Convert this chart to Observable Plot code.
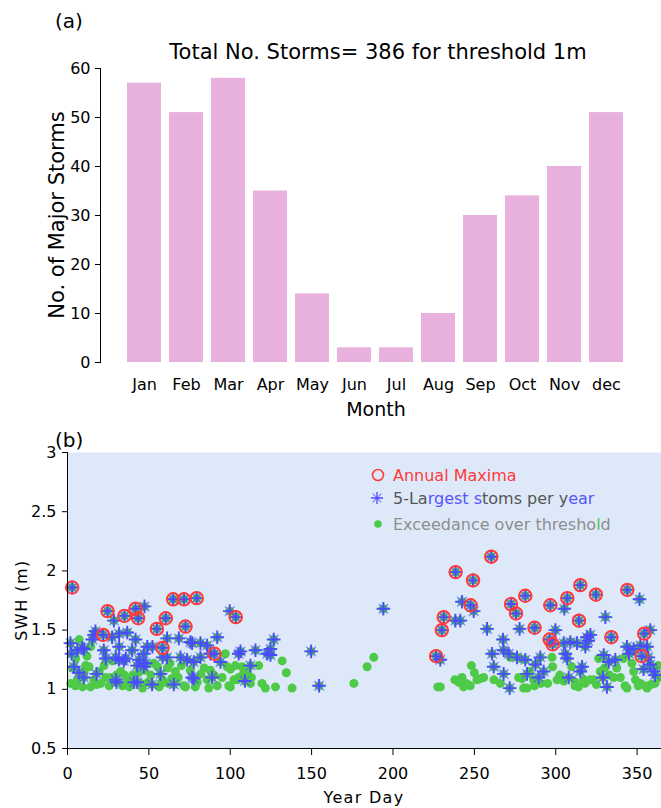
<!DOCTYPE html>
<html><head><meta charset="utf-8">
<script src="https://cdn.jsdelivr.net/npm/d3@7"></script>
<script src="https://cdn.jsdelivr.net/npm/@observablehq/plot@0.6"></script>
<style>
html,body{margin:0;padding:0;background:#fff;}
#chart{width:661px;}
#chart svg{display:block;}
</style></head><body><div id="chart"></div>
<script>
// ---------- Panel (a) data ----------
const months = ["Jan","Feb","Mar","Apr","May","Jun","Jul","Aug","Sep","Oct","Nov","dec"];
const stormCounts = [57, 51, 58, 35, 14, 3, 3, 10, 30, 34, 40, 51];
const countTicks = [0, 10, 20, 30, 40, 50, 60];

// ---------- Panel (b) data ----------
const dayTicks = [0, 50, 100, 150, 200, 250, 300, 350];
const swhTicks = [0.5, 1, 1.5, 2, 2.5, 3];

// Annual maxima (day, SWH m)
const annualMaxDay = [2.9, 21.9, 24.6, 35.0, 41.8, 43.4, 54.9, 58.4, 60.4, 64.9, 71.6, 72.5, 79.4, 90.3, 103.4,
  226.5, 230.0, 231.2, 238.5, 247.7, 249.2, 260.4, 272.5, 275.6, 281.3, 287.0, 296.3, 296.7, 298.1, 307.1,
  314.3, 315.1, 324.7, 334.2, 344.0, 352.8, 354.4];
const annualMaxSwh = [1.86, 1.46, 1.66, 1.62, 1.68, 1.60, 1.51, 1.35, 1.60, 1.76, 1.76, 1.53, 1.77, 1.30, 1.61,
  1.28, 1.50, 1.61, 1.99, 1.71, 1.92, 2.12, 1.72, 1.64, 1.79, 1.52, 1.42, 1.71, 1.38, 1.77,
  1.58, 1.88, 1.80, 1.44, 1.84, 1.28, 1.47];

// Other storms among the 5 largest per year (day, SWH m)
const largestDay = [47.3, 28.5, 99.7, 17.2, 15.2, 36.7, 41.8, 27.4, 31.7, 22.3, 9.0, 2.5, 3.9, 7.0, 10.0,
  17.8, 30.1, 42.8, 52.0, 65.3, 77.6, 88.9, 109.0, 57.1, 46.9, 49.0, 39.7, 31.5, 34.6, 42.8,
  46.9, 68.4, 61.2, 76.6, 81.7, 85.8, 92.0, 69.4, 73.5, 77.6, 81.7, 94.0, 105.2, 112.4, 115.5,
  61.2, 87.8, 124.7, 126.7, 124.7, 76.6, 75.5, 1.8, 6.0, 10.2, 23.5, 29.7, 31.7, 44.0, 48.1,
  29.7, 52.2, 58.4, 35.8, 41.0, 16.4, 106.3, 122.7, 149.7, 154.6, 194.1,
  242.4, 249.6, 238.3, 241.4, 257.8, 277.8, 299.8, 305.3, 330.5, 351.5, 358.1, 229.1, 267.6, 268.0,
  260.9, 271.1, 261.9, 268.0, 271.7, 281.3, 290.5, 287.5, 282.4, 289.5, 292.6, 304.9, 309.0, 313.1,
  319.2, 321.3, 318.2, 305.9, 307.0, 316.2, 315.1, 308.0, 329.5, 332.6, 336.6, 329.0, 331.5, 343.8,
  347.9, 352.0, 356.1, 358.1, 360.2, 361.0, 354.0, 276.2, 320.0, 345.0, 356.9];
const largestSwh = [1.70, 1.58, 1.66, 1.49, 1.42, 1.48, 1.42, 1.44, 1.36, 1.33, 1.35, 1.30, 1.19, 1.14, 1.10,
  1.13, 1.06, 1.06, 1.04, 1.04, 1.09, 1.10, 1.07, 1.13, 1.30, 1.36, 1.33, 1.25, 1.24, 1.20,
  1.19, 1.43, 1.43, 1.39, 1.39, 1.37, 1.44, 1.27, 1.25, 1.23, 1.27, 1.23, 1.30, 1.20, 1.33,
  1.27, 1.30, 1.34, 1.42, 1.29, 1.10, 1.40, 1.39, 1.33, 1.34, 1.26, 1.27, 1.47, 1.25, 1.22,
  1.08, 1.36, 1.27, 1.26, 1.06, 1.46, 1.32, 1.30, 1.32, 1.03, 1.68,
  1.74, 1.66, 1.58, 1.58, 1.51, 1.51, 1.50, 1.68, 1.61, 1.76, 1.50, 1.25, 1.42, 1.33,
  1.30, 1.30, 1.19, 1.13, 1.01, 1.25, 1.27, 1.21, 1.13, 1.10, 1.15, 1.39, 1.40, 1.39,
  1.44, 1.46, 1.36, 1.30, 1.26, 1.19, 1.15, 1.10, 1.29, 1.23, 1.25, 1.10, 1.02, 1.36,
  1.34, 1.37, 1.36, 1.21, 1.15, 1.12, 1.17, 1.27, 1.41, 1.30, 1.27];

// Other exceedances over the 1 m threshold (day, SWH m)
const exceedDay = [7.2, 14.3, 2.0, 4.9, 9.2, 14.1, 16.2, 13.3, 22.5, 23.5, 25.6, 26.4, 32.7, 33.8, 36.9,
  46.1, 47.1, 51.2, 55.3, 58.4, 61.4, 20.5, 3.1, 56.3, 11.1, 10.1, 66.3, 71.5, 79.7, 85.8,
  92.0, 87.8, 100.1, 104.2, 107.3, 100.1, 117.5, 121.6, 127.8, 112.4, 75.5, 72.5, 86.8, 98.1, 99.1,
  102.2, 138.0, 134.5, 131.9, 105.2, 103.2, 176.0, 184.1, 188.2, 40.0, 45.0, 62.0, 68.0, 82.0,
  95.0, 108.0, 113.0, 30.0, 18.0, 6.0, 63.0, 53.0, 97.0, 12.0, 19.5, 27.5, 38.0, 43.5, 49.5,
  64.0, 70.0, 78.5, 84.0, 90.0, 110.5, 119.5, 5.0, 35.0, 57.5, 67.0,
  227.5, 248.2, 242.4, 240.4, 243.4, 247.5, 251.6, 255.7, 266.0, 272.1, 278.3, 277.2, 280.3, 282.4,
  286.4, 297.7, 298.1, 300.8, 312.0, 317.2, 323.3, 326.4, 327.4, 335.6, 339.7, 343.8, 346.8, 347.9,
  352.0, 356.1, 341.6, 253.7, 279.3, 229.1, 311.8, 318.0, 321.1, 342.6, 350.7, 361.0, 309.8, 290.8,
  355.0, 238.0, 245.0, 262.0, 287.0, 295.0, 305.0, 333.0, 364.0, 363.0, 250.0, 284.0, 302.5, 314.0,
  325.0, 337.5, 349.0, 358.5, 330.0];
const exceedSwh = [1.42, 1.36, 1.05, 1.03, 1.02, 1.02, 1.08, 1.19, 1.20, 1.10, 1.03, 1.10, 1.15, 1.03, 1.08,
  1.01, 1.16, 1.12, 1.19, 1.08, 1.18, 1.05, 1.18, 1.02, 1.20, 1.15, 1.15, 1.03, 1.06, 1.08,
  1.03, 1.16, 1.02, 1.08, 1.19, 1.17, 1.20, 1.01, 1.02, 1.05, 1.16, 1.02, 1.01, 1.19, 1.03,
  1.08, 1.01, 1.14, 1.24, 1.10, 1.20, 1.05, 1.19, 1.27, 1.12, 1.05, 1.05, 1.10, 1.13,
  1.10, 1.13, 1.10, 1.12, 1.04, 1.08, 1.22, 1.22, 1.30, 1.28, 1.15, 1.24, 1.02, 1.14, 1.06,
  1.09, 1.20, 1.02, 1.18, 1.12, 1.14, 1.05, 1.26, 1.12, 1.05, 1.08,
  1.02, 1.20, 1.10, 1.06, 1.02, 1.03, 1.08, 1.10, 1.05, 1.27, 1.26, 1.10, 1.01, 1.01,
  1.08, 1.27, 1.19, 1.08, 1.06, 1.08, 1.08, 1.26, 1.15, 1.10, 1.10, 1.01, 1.22, 1.15,
  1.05, 1.01, 1.26, 1.09, 1.09, 1.02, 1.03, 1.05, 1.08, 1.03, 1.03, 1.05, 1.19, 1.05,
  1.03, 1.08, 1.05, 1.08, 1.03, 1.05, 1.07, 1.12, 1.10, 1.20, 1.14, 1.15, 1.12, 1.02,
  1.04, 1.18, 1.08, 1.04, 1.18];

// ---------- tables ----------
const monthData = months.map((m, i) => ({month: m, count: stormCounts[i]}));
const annualMax = annualMaxDay.map((d, i) => ({day: d, swh: annualMaxSwh[i]}));
const largest5 = annualMax.concat(largestDay.map((d, i) => ({day: d, swh: largestSwh[i]})));
const exceed = exceedDay.map((d, i) => ({day: d, swh: exceedSwh[i]})).concat(largest5);

const FONT = "'DejaVu Sans', Verdana, sans-serif";
const pink = "#e8b0dd", bgBlue = "#dde9f9", green = "#4fca48", blue = "#4a4aff", red = "#ff3a3a";

// Matlab-like '*' marker: a strong plus plus a lighter diagonal cross
const plusSym = {
  draw(ctx, size) {
    const r = Math.sqrt(size / Math.PI);
    ctx.moveTo(-r, 0); ctx.lineTo(r, 0);
    ctx.moveTo(0, -r); ctx.lineTo(0, r);
  }
};
const crossSym = {
  draw(ctx, size) {
    const d = Math.sqrt(size / Math.PI) * 0.72;
    ctx.moveTo(-d, -d); ctx.lineTo(d, d);
    ctx.moveTo(-d, d); ctx.lineTo(d, -d);
  }
};

// ---------- Panel (a) ----------
const plotA = Plot.plot({
  width: 661, height: 425,
  marginLeft: 100, marginRight: 11, marginTop: 68, marginBottom: 63,
  style: {fontFamily: FONT, fontSize: "16px", color: "#000", background: "#fff", overflow: "visible"},
  x: {domain: months, padding: 0.2, insetLeft: 17.7, insetRight: 17.5, label: null},
  y: {domain: [0, 60], label: null},
  marks: [
    Plot.barY(monthData, {x: "month", y: "count", fill: pink}),
    Plot.frame({anchor: "left", stroke: "#000", strokeWidth: 1}),
    Plot.axisY({ticks: countTicks, tickSize: 5, tickPadding: 5, label: null, fontSize: 16, stroke: "#000"}),
    Plot.axisX({tickSize: 0, tickPadding: 16, label: null, fontSize: 16})
  ]
});

// ---------- Panel (b) ----------
const plotB = Plot.plot({
  width: 661, height: 383,
  marginLeft: 67, marginRight: 0, marginTop: 27, marginBottom: 60,
  style: {fontFamily: FONT, fontSize: "16px", color: "#000", background: "#fff", overflow: "visible"},
  x: {domain: [0, 365], label: null},
  y: {domain: [0.5, 3], label: null},
  marks: [
    Plot.frame({fill: bgBlue, stroke: null}),
    Plot.dot(exceed, {x: "day", y: "swh", r: 4.5, fill: green}),
    Plot.dot(largest5, {x: "day", y: "swh", r: 6.6, symbol: crossSym, stroke: blue, strokeOpacity: 0.6, strokeWidth: 1.4, fill: "none"}),
    Plot.dot(largest5, {x: "day", y: "swh", r: 6.8, symbol: plusSym, stroke: blue, strokeWidth: 1.9, fill: "none"}),
    Plot.dot(annualMax, {x: "day", y: "swh", r: 6.2, stroke: red, strokeWidth: 2, fill: "none"}),
    Plot.frame({anchor: "left", stroke: "#000"}),
    Plot.frame({anchor: "bottom", stroke: "#000"}),
    Plot.axisX({ticks: dayTicks, tickSize: 7, tickPadding: 12, tickFormat: d => String(d), label: null, fontSize: 16}),
    Plot.axisY({ticks: swhTicks, tickSize: 5, tickPadding: 6, tickFormat: d => String(d), label: null, fontSize: 16})
  ]
});

const root = document.getElementById("chart");
root.appendChild(plotA);
root.appendChild(plotB);

// ---------- annotations ----------
function addText(svg, x, y, txt, opts = {}) {
  const t = d3.select(svg).append("text")
    .attr("x", x).attr("y", y)
    .attr("font-family", FONT)
    .attr("font-size", opts.size || 16)
    .attr("text-anchor", opts.anchor || "start")
    .attr("dominant-baseline", "central")
    .attr("fill", opts.fill || "#000");
  if (opts.rotate) t.attr("transform", `rotate(-90 ${x} ${y})`);
  if (opts.spacing) t.attr("letter-spacing", opts.spacing);
  if (opts.parts) {
    opts.parts.forEach(([s, c]) => t.append("tspan").attr("fill", c).text(s));
  } else t.text(txt);
  return t;
}
addText(plotA, 55, 21, "(a)", {size: 20});
addText(plotA, 378, 52, "Total No. Storms= 386 for threshold 1m", {size: 21, anchor: "middle"});
addText(plotA, 376, 409, "Month", {size: 19, anchor: "middle"});
addText(plotA, 57, 215, "No. of Major Storms", {size: 21, anchor: "middle", rotate: true});

addText(plotB, 55, 15, "(b)", {size: 20});
addText(plotB, 364, 372, "Year Day", {size: 16, anchor: "middle", spacing: 1.3});
addText(plotB, 21, 175, "SWH (m)", {size: 16, anchor: "middle", rotate: true, spacing: 1.5});

// legend
const lg = d3.select(plotB).append("g");
lg.append("circle").attr("cx", 378).attr("cy", 50).attr("r", 5.5).attr("fill", "none").attr("stroke", red).attr("stroke-width", 1.6);
lg.append("path").attr("transform", "translate(377,73)").attr("d", d3.symbol(plusSym, Math.PI * 36)()).attr("stroke", blue).attr("stroke-width", 1.3).attr("fill", "none");
lg.append("path").attr("transform", "translate(377,73)").attr("d", d3.symbol(crossSym, Math.PI * 36)()).attr("stroke", blue).attr("stroke-opacity", 0.7).attr("stroke-width", 1.1).attr("fill", "none");
lg.append("circle").attr("cx", 378).attr("cy", 99).attr("r", 3.8).attr("fill", green);
addText(plotB, 393, 50, "", {size: 16, parts: [["Annual Maxima", red]]});
addText(plotB, 393, 73, "", {size: 16, parts: [["5-La", "#555"], ["rgest s", "#5555ff"], ["toms per y", "#555"], ["ear", "#5555ff"]]});
addText(plotB, 393, 99, "", {size: 16, parts: [["Exceedance over thresho", "#8e8e8e"], ["l", green], ["d", "#8e8e8e"]]});
</script>
</body></html>
